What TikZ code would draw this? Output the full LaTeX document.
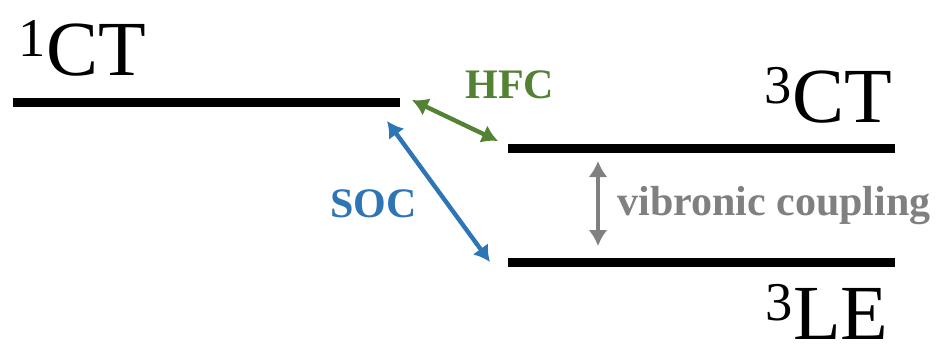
\documentclass[tikz,border=0pt]{standalone}
\usepackage{fontspec}
\setmainfont{Liberation Serif}[BoldFont={Liberation Serif Bold}]
\definecolor{HFCgreen}{HTML}{548235}
\definecolor{SOCblue}{HTML}{2E75B6}
\definecolor{VIBgray}{HTML}{808080}
\usetikzlibrary{arrows.meta}

\begin{document}
\begin{tikzpicture}[
  x=0.5pt,y=-0.5pt,
  level/.style={line width=4.5pt},
  statelabel/.style={inner sep=0pt,font=\fontsize{39}{44}\selectfont},
  couplabel/.style={inner sep=0pt,font=\fontsize{21}{25}\selectfont\bfseries},
  coupling/.style={line width=2.2pt,{Latex[length=8pt,width=9.5pt]}-{Latex[length=8pt,width=9.5pt]}}
]
  \useasboundingbox (0,0) rectangle (940,343);

  % energy levels
  \coordinate (ct1w) at (13,102);
  \coordinate (ct1e) at (400,102);
  \coordinate (ct3w) at (508,148);
  \coordinate (ct3e) at (895,148);
  \coordinate (le3w) at (508,262);
  \coordinate (le3e) at (895,262);
  \draw[level] (ct1w) -- (ct1e);
  \draw[level] (ct3w) -- (ct3e);
  \draw[level] (le3w) -- (le3e);

  \node[statelabel,anchor=base west] (ct1) at (18,75) {\textsuperscript{1}CT};
  \node[statelabel,anchor=base east] (ct3) at (893,122) {\textsuperscript{3}CT};
  \node[statelabel,anchor=base east] (le3) at (889,339) {\textsuperscript{3}LE};

  % couplings
  \coordinate (hfcA) at (412,100);
  \coordinate (hfcB) at (498,141);
  \coordinate (socA) at (387,121);
  \coordinate (socB) at (490,262);
  \coordinate (vibA) at (598,161);
  \coordinate (vibB) at (598,246);
  \draw[coupling,HFCgreen] (hfcA) -- (hfcB);
  \draw[coupling,SOCblue] (socA) -- (socB);
  \draw[coupling,VIBgray] (vibA) -- (vibB);

  \node[couplabel,HFCgreen,anchor=base west] (hfc) at (465,98) {HFC};
  \node[couplabel,SOCblue,anchor=base west] (soc) at (330,217) {SOC};
  \node[couplabel,VIBgray,anchor=base west] (vib) at (617,215) {vibronic coupling};
\end{tikzpicture}
\end{document}
